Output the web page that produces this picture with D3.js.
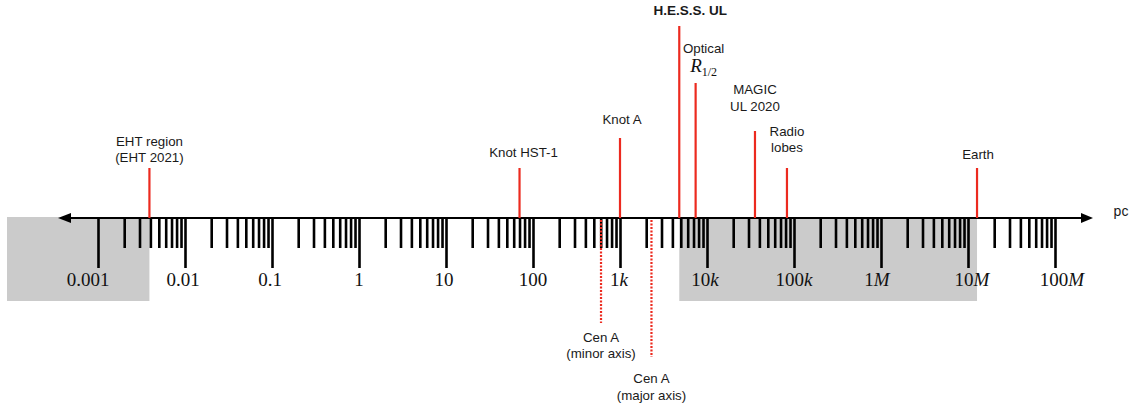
<!DOCTYPE html>
<html>
<head>
<meta charset="utf-8">
<script src="https://cdn.jsdelivr.net/npm/d3@7"></script>
<style>
  html, body { margin: 0; padding: 0; background: #ffffff; }
  svg { display: block; }
  .lbl { font-family: Helvetica, Arial, "Liberation Sans", sans-serif; font-size: 13.3px; fill: #1a1a1a; }
  .num { font-family: "Times New Roman", "Liberation Serif", serif; font-size: 19px; fill: #111; }
</style>
</head>
<body>
<svg id="chart" width="1134" height="408"></svg>
<script>
// Length scale in parsecs, from the black-hole horizon out to the observer.
const majorTickValues = [1e-3, 1e-2, 1e-1, 1, 10, 100, 1e3, 1e4, 1e5, 1e6, 1e7, 1e8];
const majorTickLabels = ["0.001", "0.01", "0.1", "1", "10", "100", "1k", "10k", "100k", "1M", "10M", "100M"];

// Region markers above the axis (solid red stems)
const markerLabels = [
  ["EHT region", "(EHT 2021)"],
  ["Knot HST-1"],
  ["Knot A"],
  ["H.E.S.S. UL"],
  ["Optical", "R"],
  ["MAGIC", "UL 2020"],
  ["Radio", "lobes"],
  ["Earth"]
];
const markerValues = [0.0039, 70, 1000, 4800, 7400, 35600, 83000, 1.27e7];

// Galaxy extent markers below the axis (dotted red stems)
const extentLabels = [
  ["Cen A", "(minor axis)"],
  ["Cen A", "(major axis)"]
];
const extentValues = [605, 2300];

// Shaded ranges: below the EHT scale, and from the H.E.S.S. limit out to Earth
const shadedRanges = [[9e-5, 0.0039], [4800, 1.27e7]];

// ---- layout (pixels) ----
const axisY = 218;
const minorLen = 30, majorLen = 50;
const tickLabelDx = [-10, -2, -2, 0, -2, 0, -1, -2, 0, -4, 4, 7];
const markerTop = [168, 168, 138, 26, 83, 131, 168, 168];
const markerLabelY = [[141, 157], [152], [119], [10], [48], [89, 106], [131, 147], [154]];
const markerLabelDx = [0, 4, 2, 11, 8, 0, 0, 1];
const extentBottom = [323, 357];
const extentLabelY = [[337, 353], [378, 395]];
const red = "#ec2a1f";

const svg = d3.select("#chart");
const x = d3.scaleLog().domain([1e-3, 1e8]).range([98, 1055]);

// shaded bands
svg.append("g").selectAll("rect")
  .data(shadedRanges)
  .join("rect")
  .attr("x", d => x(d[0]))
  .attr("width", d => x(d[1]) - x(d[0]))
  .attr("y", axisY - 1)
  .attr("height", 301 - axisY + 1)
  .attr("fill", "#cbcbcb");

// minor ticks: 2..9 in every decade
const minorTickValues = [];
for (let i = 0; i < majorTickValues.length - 1; i++) {
  for (let k = 2; k <= 9; k++) minorTickValues.push(majorTickValues[i] * k);
}

const minorAxis = d3.axisBottom(x).tickValues(minorTickValues).tickSize(minorLen).tickSizeOuter(0).tickFormat("");
const majorAxis = d3.axisBottom(x).tickValues(majorTickValues).tickSize(majorLen).tickSizeOuter(0).tickFormat("");

[minorAxis, majorAxis].forEach(ax => {
  const g = svg.append("g").attr("transform", `translate(0,${axisY})`).call(ax);
  g.select(".domain").remove();
  g.selectAll(".tick line").attr("stroke", "#000").attr("stroke-width", 2.6);
});

// major tick labels: numeric part upright, k / M suffix italic
const tl = svg.append("g").selectAll("text")
  .data(majorTickValues)
  .join("text")
  .attr("class", "num")
  .attr("x", (d, i) => x(d) + tickLabelDx[i])
  .attr("y", 286)
  .attr("text-anchor", "middle");
tl.each(function(d, i) {
  const m = majorTickLabels[i].match(/^([\d.]+)([kM]?)$/);
  const t = d3.select(this);
  t.append("tspan").text(m[1]);
  if (m[2]) t.append("tspan").attr("font-style", "italic").text(m[2]);
});

// main axis line with arrowheads
const axLeft = 58, axRight = 1093;
svg.append("line")
  .attr("x1", axLeft + 8).attr("x2", axRight - 8)
  .attr("y1", axisY).attr("y2", axisY)
  .attr("stroke", "#000").attr("stroke-width", 2.2);
svg.append("path")
  .attr("d", `M${axLeft},${axisY} L${axLeft + 13},${axisY - 5} L${axLeft + 13},${axisY + 5} Z`)
  .attr("fill", "#000");
svg.append("path")
  .attr("d", `M${axRight},${axisY} L${axRight - 12},${axisY - 5} L${axRight - 12},${axisY + 5} Z`)
  .attr("fill", "#000");
svg.append("text")
  .attr("class", "lbl")
  .attr("x", 1121).attr("y", 211).attr("dy", "0.35em")
  .attr("text-anchor", "middle")
  .style("font-size", "14px")
  .text("pc");

// marker stems
svg.append("g").selectAll("line")
  .data(markerValues)
  .join("line")
  .attr("x1", d => x(d)).attr("x2", d => x(d))
  .attr("y1", (d, i) => markerTop[i]).attr("y2", axisY)
  .attr("stroke", red).attr("stroke-width", 2.2);

// marker labels
markerValues.forEach((v, i) => {
  const cx = x(v) + markerLabelDx[i];
  markerLabels[i].forEach((line, j) => {
    if (i === 4 && j === 1) {
      // half-light radius R_{1/2}
      const t = svg.append("text")
        .attr("x", cx).attr("y", 72)
        .attr("text-anchor", "middle")
        .attr("font-family", "'Times New Roman', 'Liberation Serif', serif")
        .attr("fill", "#111");
      t.append("tspan").attr("font-style", "italic").attr("font-size", 19).text(line);
      t.append("tspan").attr("font-size", 12).attr("dy", 3.5).text("1/2");
      return;
    }
    svg.append("text")
      .attr("class", "lbl")
      .attr("x", cx)
      .attr("y", markerLabelY[i][j])
      .attr("dy", "0.35em")
      .attr("text-anchor", "middle")
      .attr("font-weight", i === 3 ? "bold" : null)
      .style("font-size", i === 3 ? "13.5px" : null)
      .text(line);
  });
});

// dotted extent stems below the axis
svg.append("g").selectAll("line")
  .data(extentValues)
  .join("line")
  .attr("x1", d => x(d)).attr("x2", d => x(d))
  .attr("y1", axisY + 2).attr("y2", (d, i) => extentBottom[i])
  .attr("stroke", red).attr("stroke-width", 2.2)
  .attr("stroke-dasharray", "2,1.5");

extentValues.forEach((v, i) => {
  extentLabels[i].forEach((line, j) => {
    svg.append("text")
      .attr("class", "lbl")
      .attr("x", x(v))
      .attr("y", extentLabelY[i][j])
      .attr("dy", "0.35em")
      .attr("text-anchor", "middle")
      .text(line);
  });
});
</script>
</body>
</html>
